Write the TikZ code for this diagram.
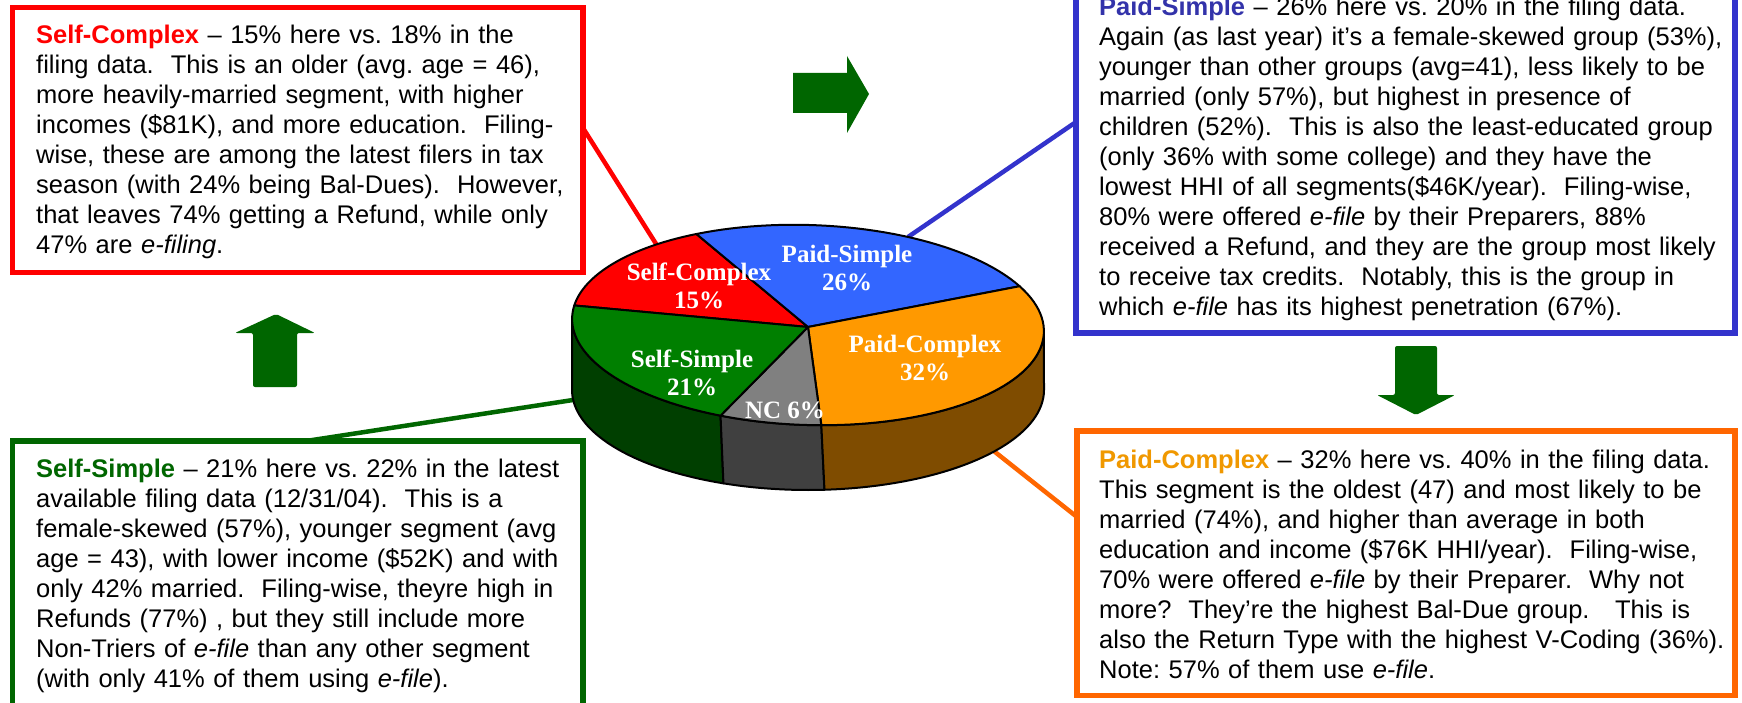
\documentclass[tikz,border=0pt]{standalone}
\usepackage{fontspec}
\setmainfont{Liberation Sans}
\newfontfamily\piefont{Liberation Serif}
\frenchspacing
\definecolor{cred}{HTML}{FF0000}
\definecolor{cblue}{HTML}{3333CC}
\definecolor{cbluetxt}{HTML}{3333AA}
\definecolor{cgreen}{HTML}{006600}
\definecolor{corange}{HTML}{FF6600}
\definecolor{corangetxt}{HTML}{F09800}
\definecolor{sred}{HTML}{FF0000}
\definecolor{sblue}{HTML}{3366FF}
\definecolor{sorange}{HTML}{FF9900}
\definecolor{sgreen}{HTML}{007F00}
\definecolor{sgray}{HTML}{808080}
\definecolor{dgreen}{HTML}{003F00}
\definecolor{dgray}{HTML}{404040}
\definecolor{dbrown}{HTML}{7F4C00}
\definecolor{arrowgreen}{HTML}{006600}
\tikzset{
  infobox/.style={draw, line width=5.5pt, outer sep=0pt, inner sep=0pt, anchor=north west, fill=white},
  body/.style={anchor=north west, inner sep=0pt, align=left, text width=680pt, font=\fontsize{25.5}{30}\selectfont},
  conn/.style={line width=4.5pt},
  slice/.style={draw=black, line width=2pt, line join=round},
  plabel/.style={text=white, align=center, inner sep=0pt, font=\piefont\bfseries\fontsize{25}{28}\selectfont},
  garrow/.style={fill=arrowgreen},
}
% pie geometry: top ellipse centre (cx,cy), slightly tilted; bottom ellipse centre (cx,by)
\def\cx{808}\def\cy{325}\def\by{390}\def\rx{236}\def\ry{100}
\def\cs{0.9995}\def\sn{0.0314}
\def\topx{\cx+\rx*cos(\x)*\cs+\ry*sin(\x)*\sn}
\def\topy{\cy+\rx*cos(\x)*\sn-\ry*sin(\x)*\cs}
\def\botx{\cx+\rx*cos(\x)}
\def\boty{\by-\ry*sin(\x)}
\begin{document}
\begin{tikzpicture}[x=1pt,y=-1pt]
\useasboundingbox (0,0) rectangle (1742,703);
\clip (0,0) rectangle (1742,703);
\fill[white] (0,0) rectangle (1742,703);

% connector end points
\coordinate (pRed) at (658,247);
\coordinate (pBlue) at (908,237);
\coordinate (pGreen) at (573,400);
\coordinate (pOrange) at (990,448);
\coordinate (bRed) at (583,128);
\coordinate (bBlue) at (1076,122);
\coordinate (bGreen) at (306,441);
\coordinate (bOrange) at (1077,517);

\draw[conn, cred] (bRed) -- (pRed);
\draw[conn, cblue] (bBlue) -- (pBlue);
\draw[conn, cgreen] (bGreen) -- (pGreen);
\draw[conn, corange] (bOrange) -- (pOrange);

% boxes
\node[infobox, draw=cred, minimum width=570.5pt, minimum height=265pt] (redbox) at (12.5,7.5) {};
\node[infobox, draw=cblue, minimum width=659pt, minimum height=373pt] (bluebox) at (1076,-40) {};
\node[infobox, draw=cgreen, minimum width=570.5pt, minimum height=300pt] (greenbox) at (12.5,441) {};
\node[infobox, draw=corange, minimum width=658pt, minimum height=264.5pt] (orangebox) at (1077,431) {};

% texts
\node[body] (redtxt) at (36,22) {\strut{\bfseries\color{cred}Self-Complex} – 15\% here vs. 18\% in the\\
filing data.~ This is an older (avg. age = 46),\\
more heavily-married segment, with higher\\
incomes (\$81K), and more education.~ Filing-\\
wise, these are among the latest filers in tax\\
season (with 24\% being Bal-Dues).~ However,\\
that leaves 74\% getting a Refund, while only\\
47\% are \textit{e-filing}.};

\node[body] (bluetxt) at (1099,-6) {\strut{\bfseries\color{cbluetxt}Paid-Simple} – 26\% here vs. 20\% in the filing data.\\
Again (as last year) it’s a female-skewed group (53\%),\\
younger than other groups (avg=41), less likely to be\\
married (only 57\%), but highest in presence of\\
children (52\%).~ This is also the least-educated group\\
(only 36\% with some college) and they have the\\
lowest HHI of all segments(\$46K/year).~ Filing-wise,\\
80\% were offered \textit{e-file} by their Preparers, 88\%\\
received a Refund, and they are the group most likely\\
to receive tax credits.~ Notably, this is the group in\\
which \textit{e-file} has its highest penetration (67\%).};

\node[body] (greentxt) at (36,456) {\strut{\bfseries\color{cgreen}Self-Simple} – 21\% here vs. 22\% in the latest\\
available filing data (12/31/04).~ This is a\\
female-skewed (57\%), younger segment (avg\\
age = 43), with lower income (\$52K) and with\\
only 42\% married.~ Filing-wise, theyre high in\\
Refunds (77\%) , but they still include more\\
Non-Triers of \textit{e-file} than any other segment\\
(with only 41\% of them using \textit{e-file}).};

\node[body] (orangetxt) at (1099,447) {\strut{\bfseries\color{corangetxt}Paid-Complex} – 32\% here vs. 40\% in the filing data.\\
This segment is the oldest (47) and most likely to be\\
married (74\%), and higher than average in both\\
education and income (\$76K HHI/year).~ Filing-wise,\\
70\% were offered \textit{e-file} by their Preparer.~ Why not\\
more?~ They’re the highest Bal-Due group.~~ This is\\
also the Return Type with the highest V-Coding (36\%).\\
Note: 57\% of them use \textit{e-file}.};

% pie sides
\filldraw[slice, fill=dgreen] plot[domain=180:249, samples=40] ({\topx},{\topy}) -- plot[domain=249:180, samples=40] ({\botx},{\boty}) -- cycle;
\filldraw[slice, fill=dgray] plot[domain=249:274, samples=20] ({\topx},{\topy}) -- plot[domain=274:249, samples=20] ({\botx},{\boty}) -- cycle;
\filldraw[slice, fill=dbrown] plot[domain=274:360, samples=40] ({\topx},{\topy}) -- plot[domain=360:274, samples=40] ({\botx},{\boty}) -- cycle;
% pie top
\coordinate (apex) at (808,327);
\filldraw[slice, fill=sred] (apex) -- plot[domain=119:173, samples=30] ({\topx},{\topy}) -- cycle;
\filldraw[slice, fill=sblue] (apex) -- plot[domain=27:119, samples=40] ({\topx},{\topy}) -- cycle;
\filldraw[slice, fill=sorange] (apex) -- plot[domain=-86:27, samples=50] ({\topx},{\topy}) -- cycle;
\filldraw[slice, fill=sgray] (apex) -- plot[domain=-111:-86, samples=20] ({\topx},{\topy}) -- cycle;
\filldraw[slice, fill=sgreen] (apex) -- plot[domain=173:249, samples=40] ({\topx},{\topy}) -- cycle;

% pie labels
\node[plabel] (lSC) at (699,286) {Self-Complex\\15\%};
\node[plabel] (lPS) at (847,268) {Paid-Simple\\26\%};
\node[plabel] (lPC) at (925,358) {Paid-Complex\\32\%};
\node[plabel] (lSS) at (692,373) {Self-Simple\\21\%};
\node[plabel] (lNC) at (785,410) {NC 6\%};

% block arrows
\fill[garrow] (793,73) -- (847,73) -- (847,56) -- (869,94) -- (847,133) -- (847,113) -- (793,113) -- cycle;
\fill[garrow, rounded corners=2pt] (253,387) -- (253,333) -- (235,333) -- (276,314) -- (315,333) -- (297,333) -- (297,387) -- cycle;
\fill[garrow, rounded corners=2pt] (1395,346) -- (1437,346) -- (1437,395) -- (1455,395) -- (1416,415) -- (1377,395) -- (1395,395) -- cycle;
\end{tikzpicture}
\end{document}
